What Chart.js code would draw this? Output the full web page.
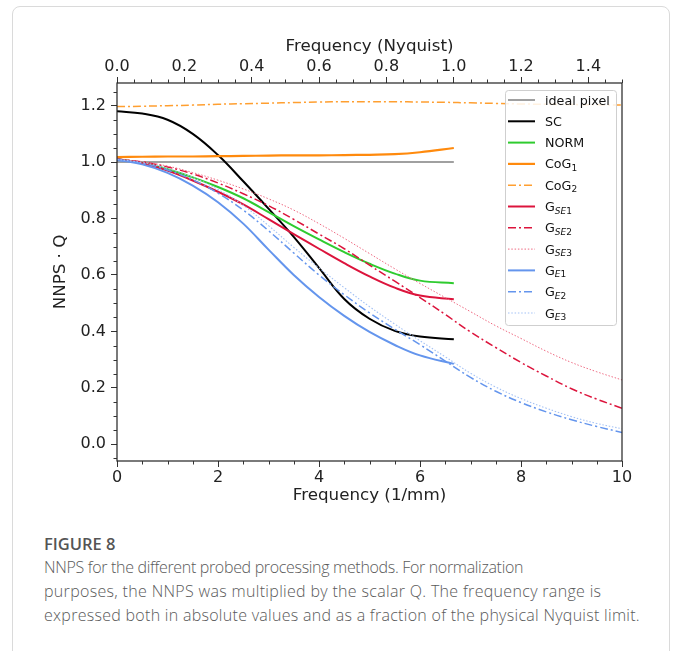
<!DOCTYPE html>
<html><head><meta charset="utf-8">
<script src="https://cdn.jsdelivr.net/npm/chart.js@4.4.1/dist/chart.umd.min.js"></script>
<style>
html,body{margin:0;padding:0;background:#fff;width:682px;height:651px;overflow:hidden;}
#card{position:absolute;left:12px;top:6px;width:658px;height:720px;border:1px solid #dadada;border-radius:8px;box-sizing:border-box;}
#wrap{position:absolute;left:0;top:0;width:682px;height:520px;}
#fig{position:absolute;left:44px;top:533px;font-family:"Open Sans";font-weight:600;font-size:16.5px;color:#555;line-height:22px;white-space:nowrap;}
#cap{position:absolute;left:44px;top:555px;font-family:"Open Sans";font-weight:350;font-size:16px;color:#5a5a5a;line-height:24px;}
#cap span{display:block;white-space:nowrap;}
</style></head><body>
<div id="card"></div>
<div id="wrap"><canvas id="c" width="682" height="520"></canvas></div>
<div id="fig">FIGURE 8</div>
<div id="cap"><span data-w="551">NNPS for the different probed processing methods. For normalization</span><span data-w="596">purposes, the NNPS was multiplied by the scalar Q. The frequency range is</span><span data-w="596">expressed both in absolute values and as a fraction of the physical Nyquist limit.</span></div>
<script>
// ---- data ----
const freqNyq = [0,0.5,1,1.5,2,2.5,3,3.5,4,4.5,5,5.5,6,6.67];
const freqFull = [0,0.5,1,1.5,2,2.5,3,3.5,4,4.5,5,5.5,6,6.5,7,7.5,8,8.5,9,9.5,10];

const idealPixel = [1,1,1,1,1,1,1,1,1,1,1,1,1,1];
const SC   = [1.18,1.172,1.15,1.10,1.025,0.932,0.835,0.735,0.625,0.515,0.445,0.402,0.382,0.372];
const NORM = [1.01,0.997,0.975,0.946,0.912,0.872,0.823,0.773,0.726,0.681,0.64,0.605,0.58,0.571];
const CoG1 = [1.018,1.019,1.02,1.02,1.021,1.022,1.023,1.024,1.024,1.025,1.026,1.028,1.035,1.05];
const GSE1 = [1.01,0.996,0.97,0.935,0.895,0.85,0.798,0.745,0.693,0.642,0.595,0.555,0.527,0.514];
const GE1  = [1.008,0.992,0.962,0.917,0.858,0.782,0.69,0.60,0.522,0.455,0.398,0.352,0.315,0.285];

const CoG2 = [1.197,1.198,1.2,1.202,1.205,1.207,1.209,1.211,1.213,1.214,1.214,1.214,1.213,1.212,1.21,1.208,1.206,1.205,1.204,1.203,1.202];
const GSE2 = [1.01,1.001,0.983,0.958,0.926,0.888,0.846,0.797,0.745,0.693,0.635,0.578,0.52,0.46,0.398,0.343,0.29,0.242,0.197,0.16,0.128];
const GSE3 = [1.01,1.001,0.986,0.963,0.936,0.905,0.87,0.83,0.782,0.73,0.676,0.622,0.57,0.52,0.47,0.42,0.375,0.33,0.29,0.257,0.228];
const GE2  = [1.01,0.996,0.972,0.937,0.89,0.83,0.757,0.678,0.60,0.53,0.466,0.408,0.353,0.295,0.237,0.188,0.148,0.115,0.087,0.063,0.042];
const GE3  = [1.01,0.998,0.978,0.946,0.903,0.847,0.775,0.698,0.625,0.555,0.488,0.426,0.367,0.31,0.252,0.203,0.162,0.128,0.098,0.074,0.055];

const bottomTicks = [0,2,4,6,8,10];
const topTicks = [0,0.2,0.4,0.6,0.8,1.0,1.2,1.4];
const yTicks = [0,0.2,0.4,0.6,0.8,1.0,1.2];

// legend labels: [base, subscript]
const legendLabels = [['ideal pixel',''],['SC',''],['NORM',''],['CoG','1'],['CoG','2'],['G','SE1'],['G','SE2'],['G','SE3'],['G','E1'],['G','E2'],['G','E3']];

// ---- styles ----
const DD = [8,3,2,3];
const DOT = [1.5,1.8];
const series = [
  {x:freqNyq, y:idealPixel, c:'#a0a0a0', w:2, d:[]},
  {x:freqNyq, y:SC,   c:'#000000', w:2, d:[]},
  {x:freqNyq, y:NORM, c:'#2fcb2f', w:2, d:[]},
  {x:freqNyq, y:CoG1, c:'#ff8a0d', w:2.2, d:[]},
  {x:freqFull, y:CoG2, c:'#ff9f30', w:1.5, d:DD},
  {x:freqNyq, y:GSE1, c:'#dc143c', w:2, d:[]},
  {x:freqFull, y:GSE2, c:'#dc143c', w:1.5, d:DD},
  {x:freqFull, y:GSE3, c:'#ee6a82', w:1, d:DOT},
  {x:freqNyq, y:GE1,  c:'#6495ed', w:2, d:[]},
  {x:freqFull, y:GE2, c:'#6495ed', w:1.5, d:DD},
  {x:freqFull, y:GE3, c:'#a4c2f5', w:1.1, d:DOT}
];
const N = series.length;
const datasets = series.map((s,i)=>({
  data: s.x.map((xv,k)=>({x:xv, y:s.y[k]})),
  borderColor: s.c, borderWidth: s.w, borderDash: s.d,
  pointRadius: 0, fill:false, tension:0.4, cubicInterpolationMode:'default',
  order: N - i, xAxisID:'x', yAxisID:'y'
}));

const FONT = 'DejaVu Sans';
const TICKCOL = '#222';

const framePlugin = {
  id:'frame',
  afterDraw(chart){
    const {ctx, chartArea:a, scales} = chart;
    ctx.save();
    ctx.strokeStyle = '#222'; ctx.lineWidth = 1.2;
    ctx.strokeRect(a.left, a.top, a.right-a.left, a.bottom-a.top);
    // minor ticks
    ctx.lineWidth = 1; ctx.strokeStyle = '#333';
    const minor = (scale, step, majors, kind) => {
      const kmin = Math.ceil(scale.min/step - 1e-9), kmax = Math.floor(scale.max/step + 1e-9);
      for (let k=kmin;k<=kmax;k++){
        const v = k*step;
        if (majors.some(m=>Math.abs(m-v)<1e-6)) continue;
        const p = Math.round(scale.getPixelForValue(v)) + 0.5;
        ctx.beginPath();
        if (kind==='bottom'){ ctx.moveTo(p,a.bottom); ctx.lineTo(p,a.bottom+3.5); }
        else if (kind==='top'){ ctx.moveTo(p,a.top); ctx.lineTo(p,a.top-3.5); }
        else { ctx.moveTo(a.left,p); ctx.lineTo(a.left-3.5,p); }
        ctx.stroke();
      }
    };
    minor(scales.x, 0.5, bottomTicks, 'bottom');
    minor(scales.x2, 0.05, topTicks, 'top');
    minor(scales.y, 0.05, yTicks, 'left');
    // legend
    const lx = 505.5, ly = 90.5, lw = 111, lh = 235;
    ctx.beginPath();
    const r = 3;
    ctx.moveTo(lx+r,ly); ctx.lineTo(lx+lw-r,ly); ctx.quadraticCurveTo(lx+lw,ly,lx+lw,ly+r);
    ctx.lineTo(lx+lw,ly+lh-r); ctx.quadraticCurveTo(lx+lw,ly+lh,lx+lw-r,ly+lh);
    ctx.lineTo(lx+r,ly+lh); ctx.quadraticCurveTo(lx,ly+lh,lx,ly+lh-r);
    ctx.lineTo(lx,ly+r); ctx.quadraticCurveTo(lx,ly,lx+r,ly); ctx.closePath();
    ctx.fillStyle = 'rgba(255,255,255,0.85)'; ctx.fill();
    ctx.strokeStyle = '#cfcfcf'; ctx.lineWidth = 1; ctx.stroke();
    legendLabels.forEach((lab,i)=>{
      const s = series[i];
      const y = 100 + i*21.3;
      ctx.strokeStyle = s.c; ctx.lineWidth = s.w; ctx.setLineDash(s.d);
      ctx.beginPath(); ctx.moveTo(508,y); ctx.lineTo(535,y); ctx.stroke();
      ctx.setLineDash([]);
      ctx.fillStyle = '#111'; ctx.textBaseline = 'alphabetic'; ctx.textAlign='left';
      ctx.font = '12.7px "'+FONT+'"';
      const base = y + 4.5;
      ctx.fillText(lab[0], 545, base);
      let xx = 545 + ctx.measureText(lab[0]).width;
      for (const ch of lab[1]) {
        const italic = /[A-Z]/.test(ch);
        ctx.font = (italic?'italic ':'') + '9px "'+FONT+'"';
        ctx.fillText(ch, xx, base + 2.5);
        xx += ctx.measureText(ch).width;
      }
    });
    ctx.restore();
  }
};

const setTicks = arr => scale => { scale.ticks = arr.map(v=>({value:v})); };

new Chart(document.getElementById('c'), {
  type:'line',
  data:{datasets},
  options:{
    responsive:false, animation:false, devicePixelRatio:1,
    layout:{padding:{left:0,right:60,top:0,bottom:0}},
    plugins:{legend:{display:false}, tooltip:{enabled:false}},
    scales:{
      x:{type:'linear', position:'bottom', min:0, max:10,
        afterBuildTicks:setTicks(bottomTicks),
        afterFit:s=>{s.height=59;},
        ticks:{color:TICKCOL, font:{family:FONT,size:16}, padding:1, maxRotation:0, callback:v=>String(v)},
        grid:{drawOnChartArea:false, drawTicks:true, tickLength:6, color:'#333'},
        border:{display:false},
        title:{display:true, text:'Frequency (1/mm)', color:TICKCOL, font:{family:FONT,size:16.7}, padding:{top:0,bottom:14}}
      },
      x2:{type:'linear', position:'top', min:0, max:1.5,
        afterBuildTicks:setTicks(topTicks),
        afterFit:s=>{s.height=83;},
        ticks:{color:TICKCOL, font:{family:FONT,size:16}, padding:1, maxRotation:0, callback:v=>v.toFixed(1)},
        grid:{drawOnChartArea:false, drawTicks:true, tickLength:6, color:'#333'},
        border:{display:false},
        title:{display:true, text:'Frequency (Nyquist)', color:TICKCOL, font:{family:FONT,size:16.7}, padding:{top:37,bottom:0}}
      },
      y:{type:'linear', position:'left', min:-0.0592, max:1.2804,
        afterBuildTicks:setTicks(yTicks),
        afterFit:s=>{s.width=117;},
        ticks:{color:TICKCOL, font:{family:FONT,size:16}, padding:5, callback:v=>v.toFixed(1)},
        grid:{drawOnChartArea:false, drawTicks:true, tickLength:6, color:'#333'},
        border:{display:false},
        title:{display:true, text:'NNPS · Q', color:TICKCOL, font:{family:FONT,size:16.7}, padding:{top:51,bottom:0}}
      }
    }
  },
  plugins:[framePlugin]
});

// fit caption lines to their widths
document.querySelectorAll('#cap span').forEach(sp=>{
  const target = +sp.dataset.w;
  const w = sp.getBoundingClientRect().width;
  const n = sp.textContent.length;
  sp.style.letterSpacing = ((target - w)/n).toFixed(3)+'px';
});
</script>
</body></html>
